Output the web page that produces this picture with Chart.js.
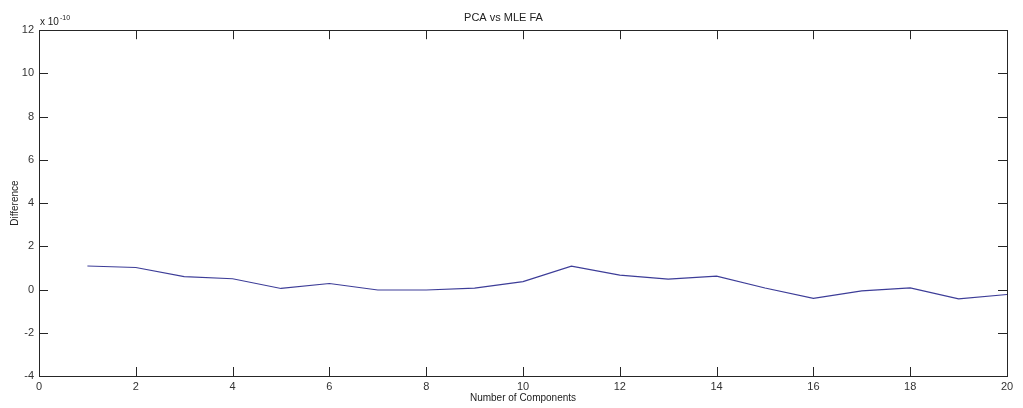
<!DOCTYPE html>
<html lang="en">
<head>
    <meta charset="UTF-8">
    <title>PCA vs MLE FA</title>
    <script src="https://cdn.jsdelivr.net/npm/chart.js"></script>
    <style>
        body { margin: 0; background: #fff; }
        #wrap { width: 1023px; height: 408px; }
    </style>
</head>
<body>
    <div id="wrap"><canvas id="diffChart"></canvas></div>

    <script>
        // data (values are in units of 1e-10)
        const components = [1, 2, 3, 4, 5, 6, 7, 8, 9, 10, 11, 12, 13, 14, 15, 16, 17, 18, 19, 20];
        const difference = [1.09, 1.02, 0.6, 0.5, 0.05, 0.28, -0.02, -0.02, 0.07, 0.37,
                            1.08, 0.67, 0.48, 0.62, 0.07, -0.41, -0.06, 0.08, -0.43, -0.23];
        const xTicks = [0, 2, 4, 6, 8, 10, 12, 14, 16, 18, 20];
        const yTicks = [-4, -2, 0, 2, 4, 6, 8, 10, 12];
        const exponentText = '-10';

        const font = "'Liberation Sans', Arial, sans-serif";

        // MATLAB style box with inward ticks on all four sides
        const boxTicks = {
            id: 'boxTicks',
            afterDraw(chart) {
                const ctx = chart.ctx;
                const a = chart.chartArea;
                const xs = chart.scales.x, ys = chart.scales.y;
                const len = 9;
                ctx.save();
                ctx.strokeStyle = '#262626';
                ctx.lineWidth = 1;
                ctx.strokeRect(Math.round(a.left) + 0.5, Math.round(a.top) + 0.5,
                               Math.round(a.right - a.left), Math.round(a.bottom - a.top));
                ctx.beginPath();
                xTicks.forEach(v => {
                    const px = Math.round(xs.getPixelForValue(v)) + 0.5;
                    ctx.moveTo(px, a.bottom); ctx.lineTo(px, a.bottom - len);
                    ctx.moveTo(px, a.top); ctx.lineTo(px, a.top + len);
                });
                yTicks.forEach(v => {
                    const py = Math.round(ys.getPixelForValue(v)) + 0.5;
                    ctx.moveTo(a.left, py); ctx.lineTo(a.left + len, py);
                    ctx.moveTo(a.right, py); ctx.lineTo(a.right - len, py);
                });
                ctx.stroke();

                // exponent label above the y axis
                ctx.fillStyle = '#222';
                ctx.textBaseline = 'middle';
                ctx.textAlign = 'left';
                ctx.font = '10px ' + font;
                ctx.fillText('x 10', a.left + 1, a.top - 8);
                const w = ctx.measureText('x 10').width;
                ctx.font = '7px ' + font;
                ctx.fillText(exponentText, a.left + 2 + w, a.top - 12);
                ctx.restore();
            }
        };

        const ctx = document.getElementById('diffChart').getContext('2d');
        new Chart(ctx, {
            type: 'line',
            data: {
                datasets: [{
                    data: components.map((c, i) => ({ x: c, y: difference[i] })),
                    borderColor: '#3d3d98',
                    borderWidth: 1.2,
                    pointRadius: 0,
                    tension: 0,
                    fill: false
                }]
            },
            options: {
                responsive: true,
                maintainAspectRatio: false,
                animation: false,
                layout: { padding: { left: 0, right: 16, top: 0, bottom: 0 } },
                plugins: {
                    legend: { display: false },
                    tooltip: { enabled: false },
                    title: {
                        display: true,
                        text: 'PCA vs MLE FA',
                        color: '#222',
                        font: { family: font, size: 11, weight: 'normal' },
                        padding: { top: 11, bottom: 6 }
                    }
                },
                scales: {
                    x: {
                        type: 'linear',
                        min: 0,
                        max: 20,
                        afterFit(scale) { scale.height = 32; },
                        afterBuildTicks(scale) { scale.ticks = xTicks.map(v => ({ value: v })); },
                        grid: { display: false, drawTicks: false },
                        border: { display: false },
                        ticks: {
                            color: '#333',
                            padding: 4,
                            maxRotation: 0,
                            font: { family: font, size: 11 }
                        },
                        title: {
                            display: true,
                            text: 'Number of Components',
                            color: '#222',
                            font: { family: font, size: 10 },
                            padding: { top: 0, bottom: 4 }
                        }
                    },
                    y: {
                        type: 'linear',
                        min: -4,
                        max: 12,
                        afterFit(scale) { scale.width = 39; },
                        afterBuildTicks(scale) { scale.ticks = yTicks.map(v => ({ value: v })); },
                        grid: { display: false, drawTicks: false },
                        border: { display: false },
                        ticks: {
                            color: '#333',
                            padding: 5,
                            font: { family: font, size: 11 }
                        },
                        title: {
                            display: true,
                            text: 'Difference',
                            color: '#222',
                            font: { family: font, size: 10 },
                            padding: { top: 9, bottom: 0 }
                        }
                    }
                }
            },
            plugins: [boxTicks]
        });
    </script>
</body>
</html>
